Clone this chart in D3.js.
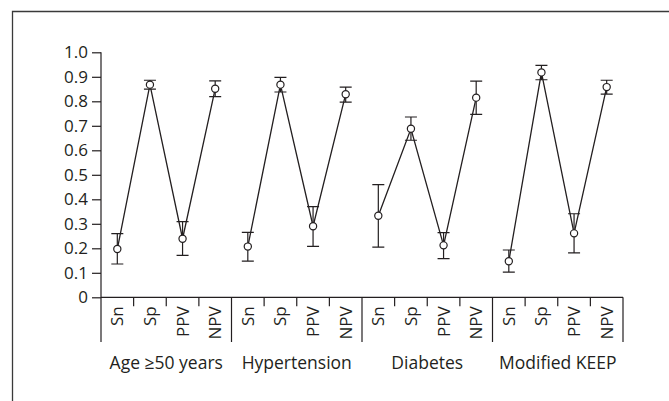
<!DOCTYPE html>
<html>
<head>
<meta charset="utf-8">
<script src="https://cdn.jsdelivr.net/npm/d3@7"></script>
<style>
  body { margin: 0; background: #fff; }
  svg text { font-family: "Open Sans", sans-serif; fill: #231f20; }
</style>
</head>
<body>
<svg></svg>
<script>
'use strict';
// data
var groups = ['Age \u226550 years', 'Hypertension', 'Diabetes', 'Modified KEEP'];
var measures = ['Sn', 'Sp', 'PPV', 'NPV'];
var yTicks = [0, 0.1, 0.2, 0.3, 0.4, 0.5, 0.6, 0.7, 0.8, 0.9, 1.0];

var estimate = [
  [0.197, 0.868, 0.239, 0.851],
  [0.207, 0.868, 0.290, 0.829],
  [0.333, 0.688, 0.212, 0.815],
  [0.147, 0.918, 0.261, 0.858]
];
var lower = [
  [0.136, 0.850, 0.171, 0.819],
  [0.148, 0.838, 0.208, 0.797],
  [0.205, 0.641, 0.158, 0.747],
  [0.103, 0.888, 0.181, 0.829]
];
var upper = [
  [0.260, 0.886, 0.309, 0.883],
  [0.265, 0.898, 0.370, 0.858],
  [0.460, 0.736, 0.264, 0.882],
  [0.193, 0.947, 0.341, 0.886]
];

(function() {
  var canvasWidth = 669, canvasHeight = 401;
  var svg = d3.select('svg')
    .attr('width', canvasWidth)
    .attr('height', canvasHeight);

  var ink = '#231f20';

  // frame
  svg.append('path')
    .attr('d', 'M12.5,' + canvasHeight + 'V11.5H' + canvasWidth)
    .attr('fill', 'none')
    .attr('stroke', '#3a3a3a')
    .attr('stroke-width', 1.3);

  var plotLeft = 101, plotRight = 623, plotTop = 52.3, plotBottom = 297.3;

  var keys = [];
  groups.forEach(function(g, gi) {
    measures.forEach(function(m) { keys.push(gi + '|' + m); });
  });

  var xScale = d3.scaleBand().domain(keys).range([plotLeft, plotRight]);
  var yScale = d3.scaleLinear().domain([0, 1]).range([plotBottom, plotTop]);

  // y axis
  var yAxis = svg.append('g')
    .attr('transform', 'translate(' + plotLeft + ',0)')
    .call(d3.axisLeft(yScale).tickValues(yTicks).tickSize(9).tickPadding(4)
      .tickFormat(function(d) { return d === 0 ? '0' : d3.format('.1f')(d); }));
  yAxis.select('.domain').attr('d', 'M0,' + plotTop + 'V' + plotBottom);
  yAxis.selectAll('line, path').attr('stroke', ink).attr('stroke-width', 1.2);
  yAxis.selectAll('text').style('font-size', '17px').attr('fill', ink);

  // x axis line + ticks at band edges
  var xg = svg.append('g');
  xg.append('line')
    .attr('x1', plotLeft).attr('x2', plotRight)
    .attr('y1', plotBottom).attr('y2', plotBottom)
    .attr('stroke', ink).attr('stroke-width', 1.2);
  var edges = d3.range(keys.length + 1);
  xg.selectAll('.edge')
    .data(edges)
    .enter().append('line')
    .attr('class', 'edge')
    .attr('x1', function(i) { return plotLeft + i * xScale.step(); })
    .attr('x2', function(i) { return plotLeft + i * xScale.step(); })
    .attr('y1', plotBottom)
    .attr('y2', function(i) { return i % 4 === 0 ? 342 : plotBottom + 9; })
    .attr('stroke', ink).attr('stroke-width', 1.2);

  xg.selectAll('.mlab')
    .data(keys)
    .enter().append('text')
    .attr('class', 'mlab')
    .attr('transform', function(k) {
      return 'translate(' + (xScale(k) + xScale.bandwidth() / 2 + 6) + ',' + (plotBottom + 9) + ') rotate(-90)';
    })
    .attr('text-anchor', 'end')
    .style('font-size', '17px')
    .text(function(k) { return k.split('|')[1]; });

  xg.selectAll('.glab')
    .data(groups)
    .enter().append('text')
    .attr('class', 'glab')
    .attr('x', function(g, gi) { return xScale(gi + '|Sn') + 2 * xScale.step(); })
    .attr('y', 369)
    .attr('text-anchor', 'middle')
    .style('font-size', '17.5px')
    .text(function(g) { return g; });

  // series
  var line = d3.line()
    .x(function(d) { return xScale(d.key) + xScale.bandwidth() / 2; })
    .y(function(d) { return yScale(d.v); });
  var cx = function(d) { return xScale(d.key) + xScale.bandwidth() / 2; };

  groups.forEach(function(g, gi) {
    var pts = measures.map(function(m, mi) {
      return { key: gi + '|' + m, v: estimate[gi][mi], lo: lower[gi][mi], hi: upper[gi][mi] };
    });
    var grp = svg.append('g');
    grp.append('path')
      .datum(pts)
      .attr('d', line)
      .attr('fill', 'none')
      .attr('stroke', ink)
      .attr('stroke-width', 1.3);
    grp.selectAll('.err')
      .data(pts)
      .enter().append('path')
      .attr('class', 'err')
      .attr('d', function(d) {
        var x = cx(d), y0 = yScale(d.lo), y1 = yScale(d.hi);
        return 'M' + x + ',' + y0 + 'V' + y1 +
          'M' + (x - 6) + ',' + y0 + 'H' + (x + 6) +
          'M' + (x - 6) + ',' + y1 + 'H' + (x + 6);
      })
      .attr('fill', 'none')
      .attr('stroke', ink)
      .attr('stroke-width', 1.2);
    grp.selectAll('circle')
      .data(pts)
      .enter().append('circle')
      .attr('cx', cx)
      .attr('cy', function(d) { return yScale(d.v); })
      .attr('r', 3.6)
      .attr('fill', '#fff')
      .attr('stroke', ink)
      .attr('stroke-width', 1.2);
  });
})();
</script>
</body>
</html>
